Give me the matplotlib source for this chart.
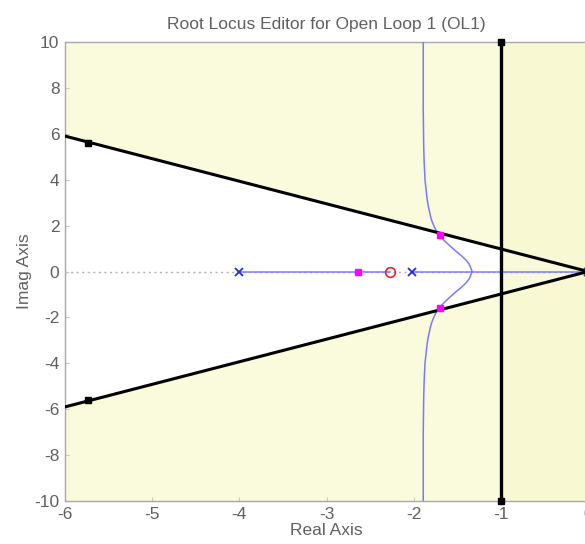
import matplotlib
matplotlib.use("Agg")
import matplotlib.pyplot as plt
import numpy as np

# ---- data ----
poles_x = [-4.0, -2.02, 0.0]
zeros_x = [-2.27]
# upper complex branch; lower branch is its conjugate
branch_x = [-1.33, -1.36, -1.40, -1.45, -1.52, -1.585, -1.65, -1.70, -1.745, -1.775,
            -1.80, -1.815, -1.835, -1.85, -1.87, -1.88, -1.885, -1.89, -1.89]
branch_y = [0.0, 0.30, 0.50, 0.68, 0.90, 1.12, 1.35, 1.55, 1.80, 2.05,
            2.30, 2.55, 2.90, 3.30, 4.00, 4.80, 5.50, 7.00, 10.0]
realaxis_segments = [(-4.0, -2.27), (-2.02, 0.0)]
closed_loop_x = [-1.70, -1.70, -2.64]
closed_loop_y = [1.57, -1.57, 0.0]
cone_left_y = 5.9          # damping boundary value at x = -6
cone_marker_x = -5.74
cone_marker_y = 5.6
sigma_line = -1.0
xlim = (-6, 0)
ylim = (-10, 10)
xticks = [-6, -5, -4, -3, -2, -1, 0]
yticks = [-10, -8, -6, -4, -2, 0, 2, 4, 6, 8, 10]

gray = "#606060"
plt.rcParams["font.family"] = ["Liberation Sans", "DejaVu Sans"]

fig = plt.figure(figsize=(5.85, 5.44), dpi=100)
ax = fig.add_axes([65 / 585, 1 - 501 / 544, 523 / 585, 459 / 544])
ax.set_xlim(*xlim)
ax.set_ylim(*ylim)

# shaded constraint regions
base = "#FAFADC"
ax.fill([xlim[0], 0, 0, xlim[0]], [cone_left_y, 0, ylim[1], ylim[1]],
        color=base, lw=0, zorder=0)
ax.fill([xlim[0], 0, 0, xlim[0]], [-cone_left_y, 0, ylim[0], ylim[0]],
        color=base, lw=0, zorder=0)
ax.fill([sigma_line, 0, 0, sigma_line], [ylim[0], ylim[0], ylim[1], ylim[1]],
        color="#F8F8D0", alpha=0.75, lw=0, zorder=0.5)

# real axis dotted
ax.plot(xlim, [0, 0], color="#b0b0b0", lw=1, ls=(0, (1.5, 2.5)), zorder=1)

# locus
lc = "#7a7aff"
for a, b in realaxis_segments:
    ax.plot([a, b], [0, 0], color=lc, lw=1.1, zorder=3)
bx = np.array(branch_x)
by = np.array(branch_y)
ax.plot(bx, by, color=lc, lw=1.1, zorder=3)
ax.plot(bx, -by, color=lc, lw=1.1, zorder=3)

# constraint boundary lines
ax.plot([xlim[0], 0], [cone_left_y, 0], color="black", lw=2.2, zorder=4)
ax.plot([xlim[0], 0], [-cone_left_y, 0], color="black", lw=2.2, zorder=4)
ax.plot([cone_marker_x, cone_marker_x], [cone_marker_y, -cone_marker_y],
        ls="none", marker="s", ms=4, color="black", zorder=5)
ax.plot([sigma_line, sigma_line], list(ylim), color="black", lw=2.4, zorder=4,
        marker="s", ms=5, clip_on=False)
ax.plot([0], [0], marker="o", ms=5, color="black", zorder=5)

# poles / zeros / closed-loop poles
ax.plot(poles_x, [0] * len(poles_x), ls="none", marker="x", ms=5.5, mew=1.3,
        color="#2a2ae0", zorder=6)
ax.plot(zeros_x, [0] * len(zeros_x), ls="none", marker="o", ms=7, mew=1.2,
        mfc="none", mec="#ee2222", zorder=6)
ax.plot(closed_loop_x, closed_loop_y, ls="none", marker="s", ms=4.5,
        color="#ff00ff", zorder=7)

# axes styling
ax.set_xticks(xticks)
ax.set_yticks(yticks)
ax.set_xticklabels([str(t) for t in xticks])
ax.set_yticklabels([str(t) for t in yticks])
ax.tick_params(direction="in", length=3, color="#c8c8c8", labelcolor=gray,
               labelsize=12.5, pad=4)
for s in ax.spines.values():
    s.set_color("#a8a8a8")
    s.set_linewidth(1)
ax.set_title("Root Locus Editor for Open Loop 1 (OL1)", color=gray, fontsize=12.5, pad=9)
ax.set_xlabel("Real Axis", color=gray, fontsize=12.5, labelpad=1)
ax.set_ylabel("Imag Axis", color=gray, fontsize=12.5, labelpad=2)

fig.savefig("out.png", dpi=100)
